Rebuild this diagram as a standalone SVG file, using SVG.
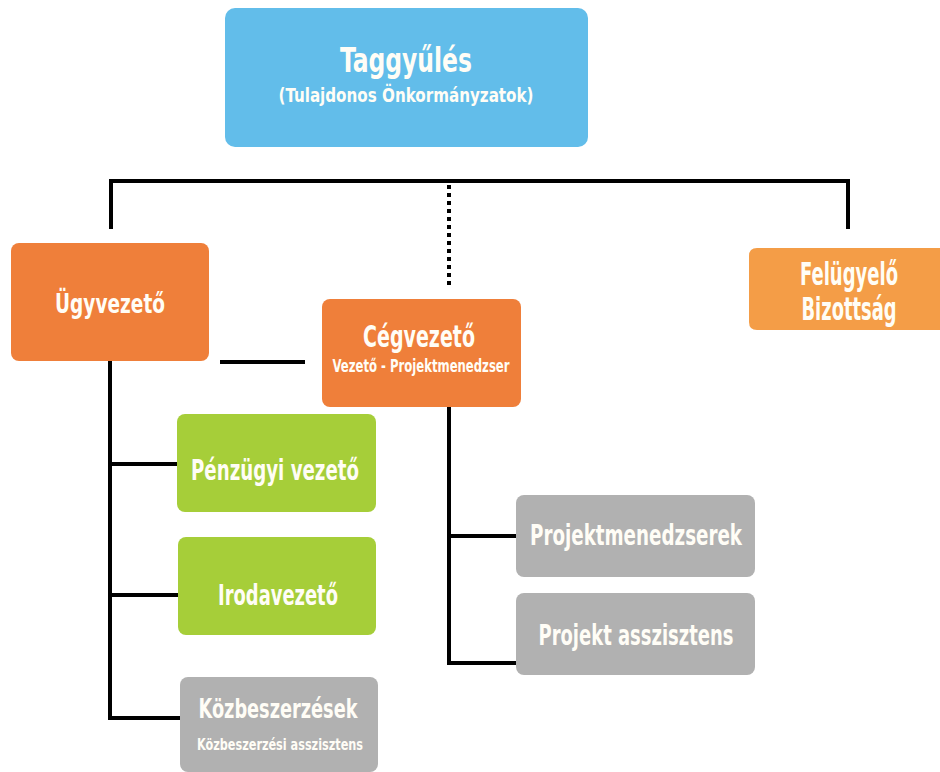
<svg xmlns="http://www.w3.org/2000/svg" width="940" height="772" viewBox="0 0 940 772">
<style>
.t{font-family:"DejaVu Sans Condensed","DejaVu Sans","Liberation Sans",sans-serif;font-weight:bold;fill:#fffdf6;text-anchor:middle}
.ln{fill:none;stroke:#000000;stroke-width:4}
.dot{fill:none;stroke:#000000;stroke-width:4;stroke-dasharray:4 4}
.blue{fill:#62BDEA}
.org{fill:#EF7F3A}
.org2{fill:#F49D47}
.grn{fill:#A6CE39}
.gry{fill:#B1B1B1}
</style>
<rect width="940" height="772" fill="#ffffff"/>
<g id="connectors">
<path class="ln" d="M111 229 V181 H848 V229"/>
<path class="dot" d="M449 185 V285"/>
<path class="ln" d="M220 362 H305"/>
<path class="ln" d="M110 361 V718 H180"/>
<path class="ln" d="M110 464 H178"/>
<path class="ln" d="M110 595 H178"/>
<path class="ln" d="M449 407 V663 H516"/>
<path class="ln" d="M449 536 H516"/>
</g>
<g id="taggyules">
<rect class="blue" x="225" y="8" width="363" height="139" rx="10"/>
<text class="t" x="406" y="72" font-size="34" textLength="132" lengthAdjust="spacingAndGlyphs">Taggyűlés</text>
<text class="t" x="406" y="102" font-size="19" textLength="255" lengthAdjust="spacingAndGlyphs">(Tulajdonos Önkormányzatok)</text>
</g>
<g id="ugyvezeto">
<rect class="org" x="11" y="243" width="198" height="118" rx="8"/>
<text class="t" x="110" y="313" font-size="27" textLength="110" lengthAdjust="spacingAndGlyphs">Ügyvezető</text>
</g>
<g id="cegvezeto">
<rect class="org" x="322" y="299" width="199" height="108" rx="8"/>
<text class="t" x="419" y="347" font-size="30" textLength="112" lengthAdjust="spacingAndGlyphs">Cégvezető</text>
<text class="t" x="421" y="372" font-size="17" textLength="177" lengthAdjust="spacingAndGlyphs">Vezető - Projektmenedzser</text>
</g>
<g id="felugyelo">
<path class="org2" d="M757 248 H940 V330 H757 Q749 330 749 322 V256 Q749 248 757 248 Z"/>
<text class="t" transform="translate(849 285) scale(1 1.3)" x="0" y="0" font-size="24" textLength="98" lengthAdjust="spacingAndGlyphs">Felügyelő</text>
<text class="t" transform="translate(849 320) scale(1 1.3)" x="0" y="0" font-size="24" textLength="95" lengthAdjust="spacingAndGlyphs">Bizottság</text>
</g>
<g id="penzugyi">
<rect class="grn" x="177" y="414" width="199" height="98" rx="8"/>
<text class="t" x="275" y="480" font-size="29" textLength="168" lengthAdjust="spacingAndGlyphs">Pénzügyi vezető</text>
</g>
<g id="irodavezeto">
<rect class="grn" x="178" y="537" width="198" height="98" rx="8"/>
<text class="t" x="278" y="605" font-size="29" textLength="120" lengthAdjust="spacingAndGlyphs">Irodavezető</text>
</g>
<g id="kozbeszerzesek">
<rect class="gry" x="180" y="677" width="198" height="95" rx="8"/>
<text class="t" x="278" y="718" font-size="27" textLength="159" lengthAdjust="spacingAndGlyphs">Közbeszerzések</text>
<text class="t" x="280" y="750" font-size="16" textLength="166" lengthAdjust="spacingAndGlyphs">Közbeszerzési asszisztens</text>
</g>
<g id="projektmenedzserek">
<rect class="gry" x="516" y="495" width="239" height="82" rx="8"/>
<text class="t" x="636" y="545" font-size="29" textLength="212" lengthAdjust="spacingAndGlyphs">Projektmenedzserek</text>
</g>
<g id="projektasszisztens">
<rect class="gry" x="516" y="593" width="239" height="82" rx="8"/>
<text class="t" x="636" y="645" font-size="29" textLength="195" lengthAdjust="spacingAndGlyphs">Projekt asszisztens</text>
</g>
</svg>
